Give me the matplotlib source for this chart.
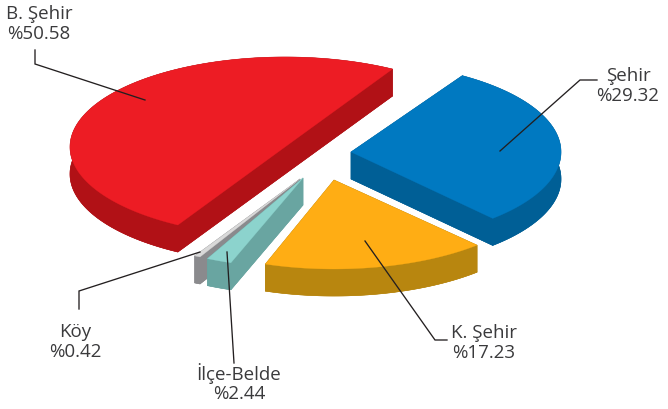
import numpy as np
import matplotlib
matplotlib.use("Agg")
import matplotlib.pyplot as plt

# data: slices clockwise from the start angle
names = ["Şehir", "K. Şehir", "İlçe-Belde", "Köy", "B. Şehir"]
shares = [29.32, 17.23, 2.44, 0.42, 50.58]

# style / layout
top_col = ["#0079C1", "#FFAD14", "#8CD3CD", "#D9D9D9", "#ED1C24"]
wall_col = ["#005F96", "#B8860F", "#69A5A1", "#8A8A8D", "#B11116"]
center = [(351, 152), (334, 180), (303, 178), (300, 179), (285, 147)]
radii = [(210, 90), (210, 89), (215, 90), (225, 87), (215, 90)]
# small perspective corrections to each slice's (first, last) edge, degrees
turn = [(-2, -2), (-1.5, -1.5), (-2, 0), (0, 0), (-2, 0)]
depth = 27
start = 60.0
label_pos = [(628, 86), (484, 343), (239, 383), (75, 342), (39, 24)]
leaders = [[(597, 80), (580, 80), (500, 151)],
           [(447, 340), (435, 340), (365, 241)],
           [(234, 363), (227, 252)],
           [(79, 309), (79, 291), (200, 252)],
           [(35, 50), (35, 64), (145, 100)]]

plt.rcParams["font.family"] = ["Open Sans", "DejaVu Sans"]
fig = plt.figure(figsize=(6.68, 4.09), dpi=100)
ax = fig.add_axes([0, 0, 1, 1])
ax.set_xlim(0, 668)
ax.set_ylim(409, 0)
ax.axis("off")

# angular limits come from the shares (clockwise from the start angle)
sweeps = np.array(shares) / sum(shares) * 360
ends = start - np.cumsum(sweeps)
begins = np.r_[start, ends[:-1]]

z = 1
draw_seq = [4, 0, 1, 3, 2]
for i in draw_seq:
    cx, cy = center[i]
    a, b = radii[i]
    t = np.radians(np.linspace(begins[i] + turn[i][0], ends[i] + turn[i][1], 200))
    rx = cx + a * np.cos(t)
    ry = cy - b * np.sin(t)
    px = np.r_[cx, rx]
    py = np.r_[cy, ry]
    wc, tc = wall_col[i], top_col[i]
    kw = dict(color=wc, lw=0.4, zorder=z)
    # bottom face
    ax.fill(px, py + depth, **kw)
    # outer rim band
    ax.fill(np.r_[rx, rx[::-1]], np.r_[ry, (ry + depth)[::-1]], **kw)
    # cut faces
    for j in (0, -1):
        ax.fill([cx, rx[j], rx[j], cx], [cy, ry[j], ry[j] + depth, cy + depth], **kw)
    ax.fill(px, py, color=tc, lw=0.2, zorder=z + 1)
    z += 2

for i, name in enumerate(names):
    xs, ys = zip(*leaders[i])
    ax.plot(xs, ys, color="#231F20", lw=0.95, zorder=50, solid_joinstyle="miter")
    ax.text(label_pos[i][0], label_pos[i][1], f"{name}\n%{shares[i]:.2f}",
            ha="center", va="center", fontsize=13.5, color="#3A3A3C",
            linespacing=1.1, zorder=60)

fig.savefig("out.png", dpi=100)
